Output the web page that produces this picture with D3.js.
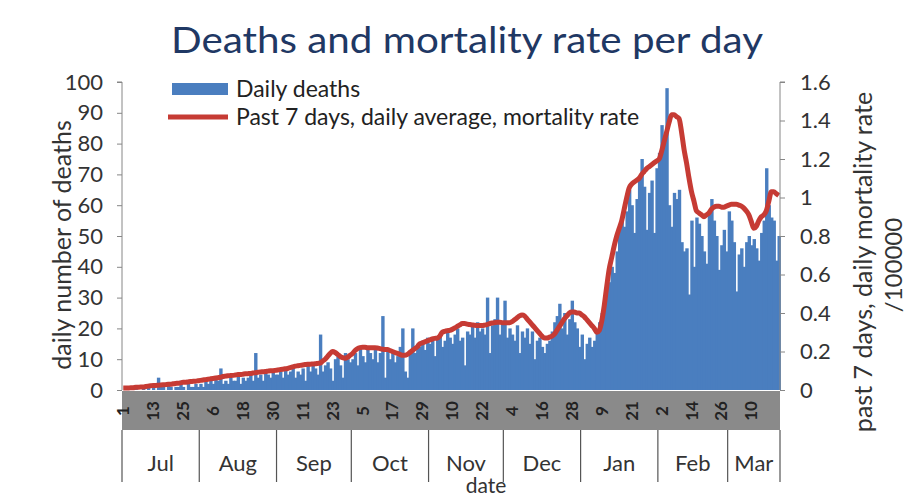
<!DOCTYPE html>
<html>
<head>
<meta charset="utf-8">
<script src="https://cdn.jsdelivr.net/npm/d3@7"></script>
<style>
  body { margin: 0; background: #fff; }
  text { font-family: Lato, "Open Sans", sans-serif; }
</style>
</head>
<body>
<div id="chart"></div>
<script>
// daily deaths, 1 Jul 2020 .. 21 Mar 2021
var deaths = [
  // Jul
  0,0,1,0,0,1,0,0,1,0,1,0,1,0,4,1,1,0,2,1,0,1,1,3,1,0,2,1,1,2,1,
  // Aug
  2,1,3,2,3,2,4,3,7,2,3,2,4,3,3,5,2,4,3,4,5,3,12,4,5,3,6,5,4,6,5,
  // Sep
  5,6,4,7,5,6,8,4,6,5,7,3,8,6,9,7,5,18,6,8,9,7,3,10,11,8,4,12,10,9,
  // Oct
  10,12,8,14,11,9,13,12,10,14,9,12,24,4,13,10,12,9,11,14,20,6,4,13,20,12,15,14,16,13,17,
  // Nov
  15,16,11,17,18,14,16,19,17,15,18,20,16,17,8,19,18,21,17,22,19,20,18,30,12,21,23,30,18,22,
  // Dec
  29,17,20,18,16,21,12,19,17,20,15,19,10,16,17,14,12,15,16,19,22,24,28,20,25,18,23,29,22,20,14,
  // Jan
  18,10,15,17,14,16,19,22,25,27,31,35,40,38,45,52,55,53,58,65,60,51,62,69,75,66,52,64,68,51,72,
  // Feb
  77,86,82,98,60,53,64,62,65,48,45,46,31,55,40,56,54,50,45,41,58,62,55,50,39,47,52,45,
  // Mar
  58,55,48,32,44,46,40,48,50,47,49,46,42,51,55,72,60,56,55,42,50
];

// past 7 days, daily average mortality rate /100000
var rate = [
  0.01,0.01,0.01,0.012,0.012,0.014,0.014,0.016,0.016,0.018,
  0.02,0.022,0.024,0.024,0.025,0.026,0.027,0.028,0.03,0.03,
  0.032,0.034,0.035,0.037,0.04,0.04,0.042,0.044,0.045,0.046,
  0.048,0.05,0.052,0.054,0.056,0.058,0.06,0.062,0.064,0.066,
  0.07,0.072,0.074,0.075,0.076,0.078,0.08,0.08,0.082,0.084,
  0.085,0.086,0.088,0.09,0.092,0.094,0.095,0.096,0.098,0.1,
  0.1,0.102,0.104,0.106,0.108,0.11,0.112,0.116,0.12,0.124,
  0.126,0.128,0.13,0.132,0.134,0.134,0.135,0.136,0.138,0.14,
  0.15,0.16,0.175,0.19,0.2,0.195,0.185,0.175,0.168,0.165,
  0.17,0.18,0.19,0.205,0.215,0.22,0.222,0.222,0.22,0.22,
  0.22,0.22,0.218,0.215,0.212,0.21,0.21,0.205,0.2,0.195,
  0.19,0.185,0.18,0.18,0.185,0.195,0.205,0.215,0.225,0.24,
  0.245,0.25,0.255,0.26,0.265,0.268,0.27,0.28,0.3,0.305,
  0.308,0.31,0.315,0.322,0.33,0.338,0.345,0.345,0.342,0.34,
  0.338,0.336,0.335,0.335,0.335,0.337,0.34,0.345,0.348,0.35,
  0.352,0.352,0.35,0.35,0.35,0.35,0.355,0.365,0.375,0.385,
  0.39,0.385,0.37,0.355,0.34,0.325,0.31,0.295,0.28,0.27,
  0.27,0.275,0.28,0.29,0.31,0.33,0.35,0.37,0.385,0.4,
  0.405,0.405,0.4,0.4,0.39,0.38,0.365,0.35,0.335,0.32,
  0.30,0.31,0.36,0.44,0.54,0.63,0.69,0.75,0.80,0.84,
  0.88,0.94,1.0,1.05,1.07,1.08,1.09,1.10,1.12,1.135,
  1.15,1.16,1.17,1.18,1.19,1.2,1.24,1.29,1.34,1.39,
  1.43,1.43,1.42,1.41,1.34,1.25,1.18,1.1,1.03,0.98,
  0.93,0.92,0.91,0.90,0.91,0.92,0.94,0.95,0.955,0.955,
  0.95,0.95,0.955,0.96,0.965,0.965,0.965,0.96,0.955,0.945,
  0.93,0.91,0.875,0.84,0.85,0.88,0.9,0.91,0.93,0.98,
  1.03,1.03,1.02,1.01
];

var monthNames = ["Jul", "Aug", "Sep", "Oct", "Nov", "Dec", "Jan", "Feb", "Mar"];
var leftTicks = [0, 10, 20, 30, 40, 50, 60, 70, 80, 90, 100];
var rightTicks = [0, 0.2, 0.4, 0.6, 0.8, 1, 1.2, 1.4, 1.6];

var dates = d3.timeDay.range(new Date(2020, 6, 1), new Date(2021, 2, 22));
var data = dates.map(function (d, i) {
    return { date: d, deaths: deaths[i], rate: rate[i] };
});

var svgWidth = 910, svgHeight = 500;
var plotLeft = 122, plotRight = 780, plotTop = 82, zeroY = 390;

var svg = d3.select("#chart").append("svg")
    .attr("width", svgWidth)
    .attr("height", svgHeight);

var x = d3.scaleBand()
    .domain(d3.range(data.length))
    .range([plotLeft, plotRight])
    .padding(0);

var y = d3.scaleLinear().domain([0, 100]).range([zeroY, plotTop]);
var y2 = d3.scaleLinear().domain([0, 1.6]).range([zeroY, plotTop]);

// title
svg.append("text")
    .attr("x", 467)
    .attr("y", 53)
    .attr("text-anchor", "middle")
    .attr("font-size", "37px")
    .attr("textLength", 592)
    .attr("lengthAdjust", "spacingAndGlyphs")
    .attr("fill", "#1f3864")
    .text("Deaths and mortality rate per day");

// grey band with day labels
svg.append("rect")
    .attr("x", plotLeft)
    .attr("y", zeroY + 1)
    .attr("width", plotRight - plotLeft)
    .attr("height", 39)
    .attr("fill", "#8a8a8a");

// bars
svg.selectAll("rect.bar")
    .data(data)
    .enter()
    .append("rect")
    .attr("class", "bar")
    .attr("x", (d, i) => x(i))
    .attr("width", x.bandwidth() + 0.9)
    .attr("y", d => y(d.deaths))
    .attr("height", d => zeroY - y(d.deaths))
    .attr("fill", "#4a7ebf");

// rate line
var line = d3.line()
    .x((d, i) => x(i) + x.bandwidth() / 2)
    .y(d => y2(d.rate))
    .curve(d3.curveMonotoneX);

svg.append("path")
    .datum(data)
    .attr("d", line)
    .attr("fill", "none")
    .attr("stroke", "#c63b34")
    .attr("stroke-width", 5)
    .attr("stroke-linejoin", "round");

// left axis
var leftAxis = d3.axisLeft(y).tickValues(leftTicks).tickSize(5).tickPadding(14);
var gl = svg.append("g")
    .attr("transform", `translate(${plotLeft}, 0)`)
    .call(leftAxis);
gl.select(".domain").attr("stroke", "#868686").attr("d", `M-5,${plotTop}H0V${zeroY}`);
gl.selectAll(".tick line").attr("stroke", "#868686");
gl.selectAll("text")
    .attr("font-size", "22px")
    .attr("fill", "#333")
    .attr("font-family", "Lato");

// right axis
var rightAxis = d3.axisRight(y2).tickValues(rightTicks).tickSize(5).tickPadding(15)
    .tickFormat(d3.format("~g"));
var gr = svg.append("g")
    .attr("transform", `translate(${plotRight}, 0)`)
    .call(rightAxis);
gr.select(".domain").attr("stroke", "#868686").attr("d", `M5,${plotTop}H0V${zeroY}`);
gr.selectAll(".tick line").attr("stroke", "#868686");
gr.selectAll("text")
    .attr("font-size", "22px")
    .attr("fill", "#333")
    .attr("font-family", "Lato");

// day-of-month labels every 12 days
svg.selectAll("text.day")
    .data(data.filter((d, i) => i % 12 === 0))
    .enter()
    .append("text")
    .attr("class", "day")
    .attr("transform", d => {
        var i = dates.indexOf(d.date);
        return `translate(${x(i) + x.bandwidth() / 2 + 6}, 411) rotate(-90)`;
    })
    .attr("text-anchor", "middle")
    .attr("font-size", "17px")
    .attr("font-weight", "bold")
    .attr("fill", "#222")
    .text(d => d.date.getDate());

// month groups
var monthStarts = data.map((d, i) => i).filter(i => dates[i].getDate() === 1);
var bounds = monthStarts.concat([data.length]);

svg.selectAll("line.msep")
    .data(bounds)
    .enter()
    .append("line")
    .attr("class", "msep")
    .attr("x1", i => i === data.length ? plotRight : x(i))
    .attr("x2", i => i === data.length ? plotRight : x(i))
    .attr("y1", zeroY + 40)
    .attr("y2", 482)
    .attr("stroke", "#555")
    .attr("stroke-width", 1.2);

svg.selectAll("text.month")
    .data(monthNames)
    .enter()
    .append("text")
    .attr("class", "month")
    .attr("x", (m, k) => {
        var a = x(bounds[k]);
        var b = bounds[k + 1] === data.length ? plotRight : x(bounds[k + 1]);
        return (a + b) / 2;
    })
    .attr("y", 471)
    .attr("text-anchor", "middle")
    .attr("font-size", "22px")
    .attr("fill", "#333")
    .text(m => m);

// axis titles
svg.append("text")
    .attr("transform", "translate(71, 245) rotate(-90)")
    .attr("text-anchor", "middle")
    .attr("font-size", "25px")
    .attr("fill", "#333")
    .text("daily number of deaths");

svg.append("text")
    .attr("transform", "translate(872, 262) rotate(-90)")
    .attr("text-anchor", "middle")
    .attr("font-size", "25px")
    .attr("fill", "#333")
    .text("past 7 days, daily mortality rate");

svg.append("text")
    .attr("transform", "translate(902, 265) rotate(-90)")
    .attr("text-anchor", "middle")
    .attr("font-size", "24px")
    .attr("fill", "#333")
    .text("/100000");

svg.append("text")
    .attr("x", 486)
    .attr("y", 493)
    .attr("text-anchor", "middle")
    .attr("font-size", "21px")
    .attr("fill", "#333")
    .text("date");

// legend
var legend = svg.append("g");
legend.append("rect")
    .attr("x", 172).attr("y", 83)
    .attr("width", 56).attr("height", 12)
    .attr("fill", "#4a7ebf");
legend.append("text")
    .attr("x", 236).attr("y", 97)
    .attr("font-size", "23px")
    .attr("fill", "#222")
    .text("Daily deaths");
legend.append("line")
    .attr("x1", 168).attr("x2", 228)
    .attr("y1", 117).attr("y2", 117)
    .attr("stroke", "#c63b34")
    .attr("stroke-width", 5);
legend.append("text")
    .attr("x", 236).attr("y", 125)
    .attr("font-size", "23px")
    .attr("fill", "#222")
    .text("Past 7 days, daily average, mortality rate");
</script>
</body>
</html>
